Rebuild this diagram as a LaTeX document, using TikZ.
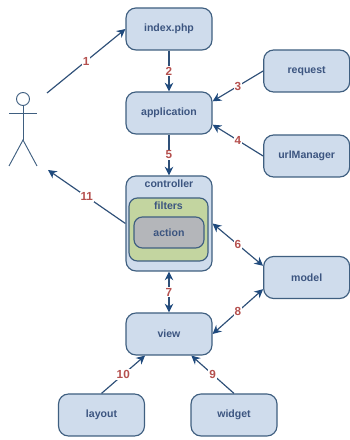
\documentclass[tikz,border=0pt]{standalone}
\usepackage{fontspec}
\setmainfont{Liberation Sans}
\usetikzlibrary{positioning, arrows.meta}
\definecolor{boxfill}{HTML}{CFDCEC}
\definecolor{boxline}{HTML}{3F5F80}
\definecolor{boxtext}{HTML}{3C5580}
\definecolor{flowline}{HTML}{2F5078}
\definecolor{flowhead}{HTML}{1F4A7D}
\definecolor{numtext}{HTML}{B5504E}
\definecolor{filtersfill}{HTML}{C3D5A0}
\definecolor{actionfill}{HTML}{B4B6BA}
\begin{document}
\begin{tikzpicture}[
                box/.style={rectangle, draw=boxline, fill=boxfill, line width=1pt, rounded corners=0.3cm, minimum width=2.58cm, minimum height=1.26cm, align=center, font=\bfseries\fontsize{9}{11}\selectfont, text=boxtext},
                lbl/.style={font=\bfseries\fontsize{9}{11}\selectfont, text=boxtext, inner sep=1pt},
                num/.style={font=\bfseries\fontsize{10}{12}\selectfont, text=numtext, fill=white, inner sep=0.8pt},
                flow/.style={draw=flowline, line width=1pt, -{Stealth[length=2.6mm, width=2.6mm, color=flowhead]}},
                both/.style={flow, {Stealth[length=2.6mm, width=2.6mm, color=flowhead]}-{Stealth[length=2.6mm, width=2.6mm, color=flowhead]}},
                stick/.style={draw=boxline, line width=0.8pt}
            ]
                \useasboundingbox (0,0) rectangle (10.47,13.2);

                % Middle column
                \node[box] (index) at (5.07,12.33) {index.php};
                \node[box] (application) at (5.07,9.81) {application};
                \node[box] (view) at (5.07,3.18) {view};

                % Controller with its nested boxes
                \node[box, minimum height=2.85cm] (controller) at (5.07,6.495) {};
                \node[lbl, below=0.08cm of controller.north] (controllerlbl) {controller};
                \node[box, fill=filtersfill, minimum width=2.37cm, minimum height=1.89cm, rounded corners=0.25cm] (filters) at (5.055,6.315) {};
                \node[lbl, below=0.08cm of filters.north] (filterslbl) {filters};
                \node[box, fill=actionfill, minimum width=2.1cm, minimum height=0.93cm, rounded corners=0.25cm] (action) at (5.07,6.225) {action};

                % Right column
                \node[box] (request) at (9.2,11.07) {request};
                \node[box] (urlManager) at (9.2,8.52) {urlManager};
                \node[box] (model) at (9.2,4.875) {model};

                % Bottom row
                \node[box] (layout) at (3.045,0.75) {layout};
                \node[box] (widget) at (7.02,0.75) {widget};

                % Actor
                \node[circle, stick, fill=white, minimum size=0.39cm, inner sep=0pt] (head) at (0.69,10.23) {};
                \coordinate (hip) at (0.69,9.0);
                \coordinate (handl) at (0.27,9.81);
                \coordinate (handr) at (1.11,9.81);
                \coordinate (footl) at (0.27,8.22);
                \coordinate (footr) at (1.11,8.22);
                \draw[stick] (head.south) -- (hip);
                \draw[stick] (handl) -- (handr);
                \draw[stick] (footl) -- (hip) -- (footr);
                \coordinate (actorout) at (1.41,10.41);
                \coordinate (actorin) at (1.44,8.1);

                % Numbered connectors
                \draw[flow] (actorout) -- node[num] {1} (index.west);
                \draw[flow] (index) -- node[num] {2} (application);
                \draw[flow] (request.west) -- node[num] {3} (application.15);
                \draw[flow] (urlManager.west) -- node[num] {4} (application.-15);
                \draw[flow] (application) -- node[num] {5} (controller);
                \draw[both] (controller.east) -- node[num] {6} (model.165);
                \draw[both] (controller) -- node[num] {7} (view);
                \draw[both] (model.195) -- node[num] {8} (view.east);
                \draw[flow] (widget.north) -- node[num] {9} (view.-44);
                \draw[flow] (layout.north) -- node[num] {10} (view.-138);
                \draw[flow] (controller.west) -- node[num] {11} (actorin);
            \end{tikzpicture}
\end{document}
